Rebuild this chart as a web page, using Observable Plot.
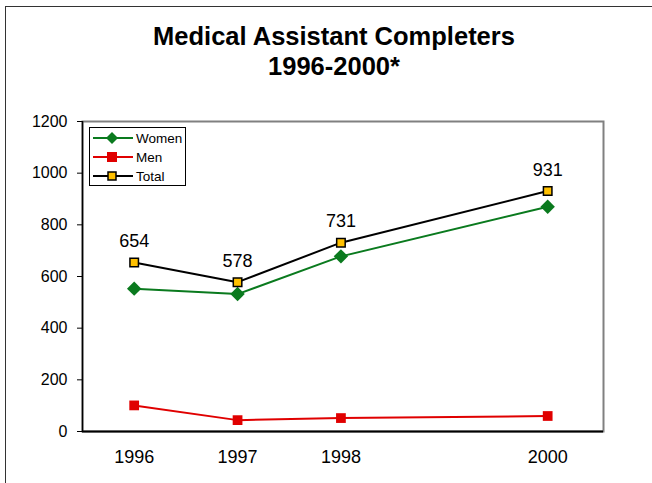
<!DOCTYPE html>
<html><head><meta charset="utf-8">
<script src="https://cdn.jsdelivr.net/npm/d3@7"></script>
<script src="https://cdn.jsdelivr.net/npm/@observablehq/plot@0.6"></script>
<style>
body{margin:0;background:#fff;font-family:"Liberation Sans",Arial,sans-serif;}
#wrap{position:relative;width:652px;height:483px;overflow:hidden;}
#border{position:absolute;left:5px;top:6px;width:660px;height:500px;border:1.5px solid #333;box-sizing:border-box;}
#title{position:absolute;left:0;width:668px;top:21px;text-align:center;font-weight:bold;font-size:25.5px;line-height:30px;color:#000;}
#legend{position:absolute;left:89px;top:127px;width:97px;height:59px;border:1px solid #000;box-sizing:border-box;background:#fff;font-size:13.5px;}
.li{position:absolute;left:2px;height:16px;display:flex;align-items:center;}
.li span{margin-left:2px;}
#chart{position:absolute;left:0;top:0;}
</style></head>
<body><div id="wrap"><div id="border"></div><div id="title">Medical Assistant Completers<br>1996-2000*</div><div id="chart"></div><div id="legend"></div></div>
<script>
const years = [1996, 1997, 1998, 2000];
const women = [553, 532, 678, 870];
const men = [101, 44, 52, 60];
const total = [654, 578, 731, 931];
const yTicks = [0, 200, 400, 600, 800, 1000, 1200];
const seriesNames = ["Women", "Men", "Total"];
const colors = {Women: "#0a7a1e", Men: "#e00000", Total: "#000000"};

const rows = (name, vals) => years.map((y, i) => ({year: y, value: vals[i], series: name}));
const W = rows("Women", women), M = rows("Men", men), T = rows("Total", total);

const chart = Plot.plot({
  width: 652, height: 483,
  marginLeft: 82, marginRight: 49, marginTop: 121, marginBottom: 52,
  style: {fontFamily: "Liberation Sans, Arial, sans-serif", fontSize: "16px", color: "#000", background: "transparent"},
  x: {domain: [1995.5, 2000.54], label: null},
  y: {domain: [0, 1200], label: null},
  marks: [
    Plot.frame({stroke: "#808080", strokeWidth: 2}),
    Plot.axisX({ticks: years, tickFormat: "d", tickSize: 0, tickPadding: 19, fontSize: 18, label: null}),
    Plot.axisY({ticks: yTicks, tickFormat: "d", tickSize: 5, tickPadding: 10, fontSize: 16, label: null}),
    Plot.ruleX([1995.5], {stroke: "#000", strokeWidth: 1.5}),
    Plot.ruleY([0], {stroke: "#000", strokeWidth: 2}),
    Plot.line(M, {x: "year", y: "value", stroke: colors.Men, strokeWidth: 2}),
    Plot.dot(M, {x: "year", y: "value", symbol: "square", r: 5.5, fill: colors.Men}),
    Plot.line(W, {x: "year", y: "value", stroke: colors.Women, strokeWidth: 2}),
    Plot.dot(W, {x: "year", y: "value", symbol: "diamond2", r: 6.5, fill: colors.Women}),
    Plot.line(T, {x: "year", y: "value", stroke: colors.Total, strokeWidth: 2}),
    Plot.dot(T, {x: "year", y: "value", symbol: "square", r: 4.8, fill: "#ffc000", stroke: "#000", strokeWidth: 1.5}),
    Plot.text(T, {x: "year", y: "value", text: d => String(d.value), dy: -21, fontSize: 18, fill: "#000"})
  ]
});
document.getElementById("chart").appendChild(chart);

// legend
const leg = document.getElementById("legend");
const mk = {
  Women: '<path d="M20,2 L26,8 L20,14 L14,8 Z" fill="#0a7a1e"/>',
  Men: '<rect x="15" y="3" width="10" height="10" fill="#e00000"/>',
  Total: '<rect x="16" y="4" width="8" height="8" fill="#ffc000" stroke="#000" stroke-width="1.5"/>'
};
seriesNames.forEach((s, i) => {
  const d = document.createElement("div");
  d.className = "li";
  d.style.top = (2 + i * 19) + "px";
  d.innerHTML = `<svg width="42" height="16"><line x1="1" x2="41" y1="8" y2="8" stroke="${colors[s]}" stroke-width="2"/>${mk[s]}</svg><span>${s}</span>`;
  leg.appendChild(d);
});
</script></body></html>
